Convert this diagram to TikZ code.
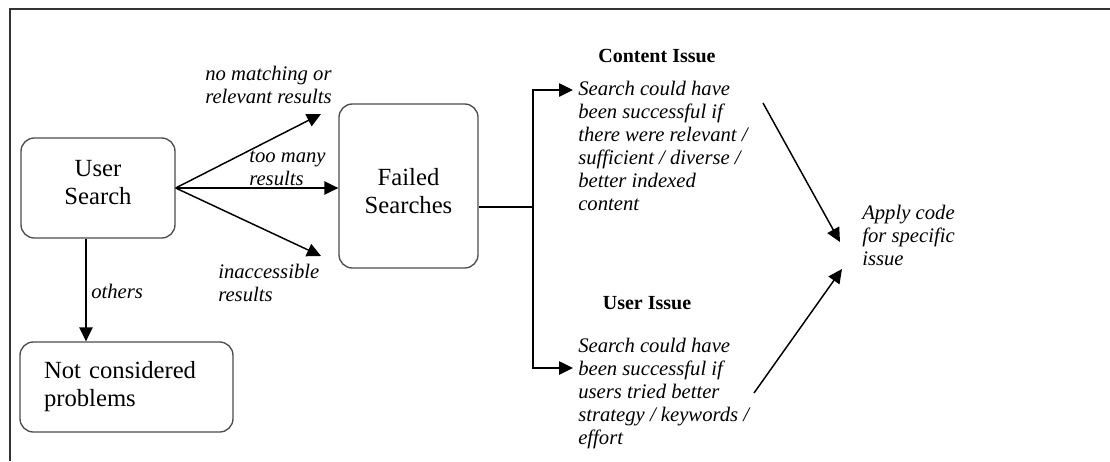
\documentclass[tikz,border=0pt]{standalone}
\usepackage{fontspec}
\setmainfont{Liberation Serif}
\usetikzlibrary{arrows.meta,positioning}
\tikzset{
	box/.style={draw=black!70, line width=1pt, rounded corners=10pt, align=center,
			font=\fontsize{18.5}{21}\selectfont},
	note/.style={inner sep=0pt, align=left, font=\fontsize{15.5}{17.25}\selectfont\itshape},
	head/.style={inner sep=0pt, font=\fontsize{15}{18}\selectfont\bfseries},
	flow/.style={->, line width=1.1pt}
}

\begin{document}
\begin{tikzpicture}[x=0.75pt, y=-0.75pt, >={Triangle[length=10.5pt,width=10pt]}]
	\useasboundingbox (0,0) rectangle (1110,461);
	\draw[black!80, line width=1.6pt] (1110,9) to (10,9) to (10,461);

	\node[box, minimum width=115.5pt, minimum height=75pt, text depth=9pt] (us) at (98,188) {User\\Search};
	\node[box, minimum width=104.25pt, minimum height=123pt, text height=41pt] (fs) at (408.5,186) {Failed\\Searches};
	\node[box, align=left, text width=123.75pt, inner xsep=18pt, minimum height=67.5pt] (nc) at (126.5,387) {Not considered\\problems};

	\node[note, anchor=north west] (nomatch) at (205,66) {no matching or\\relevant results};
	\node[note, anchor=north west] (toomany) at (249,151) {too many\\results};
	\node[note, anchor=north west] (inacc) at (218,264) {inaccessible\\results};
	\node[note, anchor=north west] (others) at (91,284) {others};

	\node[head, anchor=north] (ci) at (657,49) {Content Issue};
	\node[note, anchor=north west] (citext) at (578,81) {Search could have\\been successful if\\there were relevant /\\sufficient / diverse /\\better indexed\\content};
	\node[head, anchor=north] (ui) at (647,296) {User Issue};
	\node[note, anchor=north west] (uitext) at (578,338) {Search could have\\been successful if\\users tried better\\strategy / keywords /\\effort};
	\node[note, anchor=north west] (apply) at (862,205) {Apply code\\for specific\\issue};

	\coordinate (up) at (321,114);
	\coordinate (dn) at (321,256);
	\coordinate (split) at (533,207);
	\coordinate (cin) at (573,90);
	\coordinate (uin) at (573,368);
	\coordinate (cout) at (763,103);
	\coordinate (ain) at (840,242);
	\coordinate (uout) at (754,393);
	\coordinate (bin) at (842,269);

	\draw[flow] (us.east) to (up);
	\draw[flow] (us.east) to (us.east -| fs.west);
	\draw[flow] (us.east) to (dn);
	\draw[flow] ([xshift=-9pt]us.south) to ([xshift=-9pt]us.south |- nc.north);
	\draw[line width=1.1pt] ([yshift=-15.75pt]fs.east) to (split);
	\draw[flow] (split) |- (cin);
	\draw[flow] (split) |- (uin);
	\draw[flow] (cout) to (ain);
	\draw[flow] (uout) to (bin);
\end{tikzpicture}
\end{document}
